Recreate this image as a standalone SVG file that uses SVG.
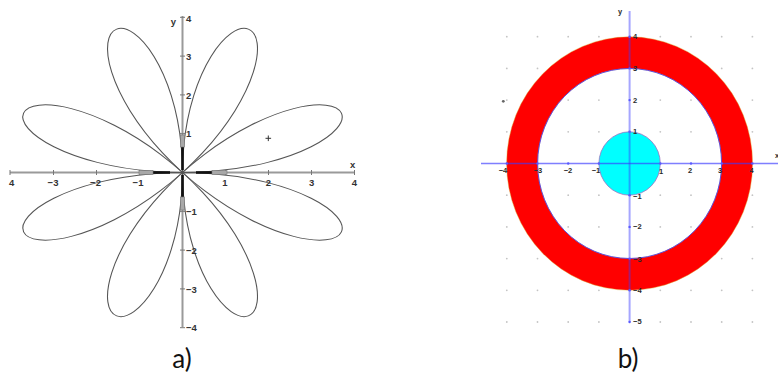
<svg xmlns="http://www.w3.org/2000/svg" xmlns:xlink="http://www.w3.org/1999/xlink" width="778" height="389" viewBox="0 0 778 389">
<style>
.lt{font-family:"Liberation Sans",Arial,sans-serif;font-size:9.5px;font-weight:bold;fill:#333}
.rt{font-family:"Liberation Sans",Arial,sans-serif;font-size:7.5px;font-weight:bold;fill:#2a2a2a}
.cap{font-family:"Lato","Open Sans",sans-serif;font-size:26px;fill:#111}
.gd{fill:#c4c4c4}
.bd{fill:#5a5aff}
</style>
<defs>
<path id="petal" d="M0,0 C0.2150,-0.0891 0.4339,-0.1687 0.6527,-0.2376 C1.090,-0.3754 1.528,-0.4695 1.932,-0.5176 C2.336,-0.5657 2.708,-0.5679 3.018,-0.5321 C3.328,-0.4963 3.577,-0.4227 3.745,-0.3276 C3.913,-0.2325 4,-0.1164 4,0 C4,0.1164 3.913,0.2325 3.745,0.3276 C3.577,0.4227 3.328,0.4963 3.018,0.5321 C2.708,0.5679 2.336,0.5657 1.932,0.5176 C1.528,0.4695 1.090,0.3754 0.6527,0.2376 C0.4339,0.1687 0.2150,0.0891 0,0 Z" fill="none" stroke="#555" stroke-width="0.025"/>
</defs>

<g id="plot-a">
<g id="axes-a" stroke="#9a9a9a" stroke-width="2">
<line x1="10" y1="172.5" x2="354.5" y2="172.5"/>
<line x1="182.5" y1="16" x2="182.5" y2="327"/>
</g>
<g id="ticks-a" stroke="#777" stroke-width="1">
<path d="M10,170v5M53.5,170v5M96.5,170v5M139.5,170v5M225.5,170v5M268.5,170v5M311.5,170v5M354.5,170v5"/>
<path d="M180,17.3h5M180,56.1h5M180,94.9h5M180,133.7h5M180,211.3h5M180,250.1h5M180,288.9h5M180,327.7h5"/>
</g>
<g id="rose" transform="translate(182.5 172.5) scale(43 -38.8)">
<use xlink:href="#petal" transform="rotate(22.5)"/>
<use xlink:href="#petal" transform="rotate(67.5)"/>
<use xlink:href="#petal" transform="rotate(112.5)"/>
<use xlink:href="#petal" transform="rotate(157.5)"/>
<use xlink:href="#petal" transform="rotate(202.5)"/>
<use xlink:href="#petal" transform="rotate(247.5)"/>
<use xlink:href="#petal" transform="rotate(292.5)"/>
<use xlink:href="#petal" transform="rotate(337.5)"/>
</g>
<g id="thick-a">
<rect x="196" y="171.2" width="16" height="2.6" fill="#111"/>
<rect x="212" y="170.5" width="15" height="4" fill="#a8a8a8" stroke="#777" stroke-width="0.6"/>
<rect x="153" y="171.2" width="17" height="2.6" fill="#111"/>
<rect x="139" y="170.5" width="14" height="4" fill="#a8a8a8" stroke="#777" stroke-width="0.6"/>
<rect x="181.2" y="147" width="2.6" height="23" fill="#111"/>
<rect x="180.5" y="135" width="4" height="12" fill="#a8a8a8" stroke="#777" stroke-width="0.6"/>
<rect x="181.2" y="175" width="2.6" height="22" fill="#111"/>
<rect x="180.5" y="197" width="4" height="13" fill="#a8a8a8" stroke="#777" stroke-width="0.6"/>
</g>
<path id="plus-a" d="M265.5,138.3h5.6M268.3,135.5v5.6" stroke="#333" stroke-width="1"/>
<g id="labels-a" class="lt">
<text x="11.7" y="186" text-anchor="middle">4</text>
<text x="53" y="186" text-anchor="middle">−3</text>
<text x="95.5" y="186" text-anchor="middle">−2</text>
<text x="138" y="186" text-anchor="middle">−1</text>
<text x="225" y="186" text-anchor="middle">1</text>
<text x="268.3" y="186" text-anchor="middle">2</text>
<text x="311.7" y="186" text-anchor="middle">3</text>
<text x="354.3" y="186" text-anchor="middle">4</text>
<text x="352.7" y="167.5" text-anchor="middle">x</text>
<text x="173.3" y="25" text-anchor="middle">y</text>
<text x="186" y="21.5">4</text>
<text x="186" y="60">3</text>
<text x="186" y="98.5">2</text>
<text x="186" y="137">1</text>
<text x="186" y="215">−1</text>
<text x="186" y="254">−2</text>
<text x="186" y="293">−3</text>
<text x="186" y="331">−4</text>
</g>
</g>

<g id="plot-b">
<g id="grid-b" class="gd">
<circle cx="506.8" cy="36.7" r="0.9"/><circle cx="537.5" cy="36.7" r="0.9"/><circle cx="568.2" cy="36.7" r="0.9"/><circle cx="598.9" cy="36.7" r="0.9"/><circle cx="660.3" cy="36.7" r="0.9"/><circle cx="691" cy="36.7" r="0.9"/><circle cx="721.7" cy="36.7" r="0.9"/><circle cx="752.4" cy="36.7" r="0.9"/>
<circle cx="506.8" cy="68.4" r="0.9"/><circle cx="537.5" cy="68.4" r="0.9"/><circle cx="568.2" cy="68.4" r="0.9"/><circle cx="598.9" cy="68.4" r="0.9"/><circle cx="660.3" cy="68.4" r="0.9"/><circle cx="691" cy="68.4" r="0.9"/><circle cx="721.7" cy="68.4" r="0.9"/><circle cx="752.4" cy="68.4" r="0.9"/>
<circle cx="506.8" cy="100.1" r="0.9"/><circle cx="537.5" cy="100.1" r="0.9"/><circle cx="568.2" cy="100.1" r="0.9"/><circle cx="598.9" cy="100.1" r="0.9"/><circle cx="660.3" cy="100.1" r="0.9"/><circle cx="691" cy="100.1" r="0.9"/><circle cx="721.7" cy="100.1" r="0.9"/><circle cx="752.4" cy="100.1" r="0.9"/>
<circle cx="506.8" cy="131.8" r="0.9"/><circle cx="537.5" cy="131.8" r="0.9"/><circle cx="568.2" cy="131.8" r="0.9"/><circle cx="598.9" cy="131.8" r="0.9"/><circle cx="660.3" cy="131.8" r="0.9"/><circle cx="691" cy="131.8" r="0.9"/><circle cx="721.7" cy="131.8" r="0.9"/><circle cx="752.4" cy="131.8" r="0.9"/>
<circle cx="506.8" cy="195.2" r="0.9"/><circle cx="537.5" cy="195.2" r="0.9"/><circle cx="568.2" cy="195.2" r="0.9"/><circle cx="598.9" cy="195.2" r="0.9"/><circle cx="660.3" cy="195.2" r="0.9"/><circle cx="691" cy="195.2" r="0.9"/><circle cx="721.7" cy="195.2" r="0.9"/><circle cx="752.4" cy="195.2" r="0.9"/>
<circle cx="506.8" cy="226.9" r="0.9"/><circle cx="537.5" cy="226.9" r="0.9"/><circle cx="568.2" cy="226.9" r="0.9"/><circle cx="598.9" cy="226.9" r="0.9"/><circle cx="660.3" cy="226.9" r="0.9"/><circle cx="691" cy="226.9" r="0.9"/><circle cx="721.7" cy="226.9" r="0.9"/><circle cx="752.4" cy="226.9" r="0.9"/>
<circle cx="506.8" cy="258.6" r="0.9"/><circle cx="537.5" cy="258.6" r="0.9"/><circle cx="568.2" cy="258.6" r="0.9"/><circle cx="598.9" cy="258.6" r="0.9"/><circle cx="660.3" cy="258.6" r="0.9"/><circle cx="691" cy="258.6" r="0.9"/><circle cx="721.7" cy="258.6" r="0.9"/><circle cx="752.4" cy="258.6" r="0.9"/>
<circle cx="506.8" cy="290.3" r="0.9"/><circle cx="537.5" cy="290.3" r="0.9"/><circle cx="568.2" cy="290.3" r="0.9"/><circle cx="598.9" cy="290.3" r="0.9"/><circle cx="660.3" cy="290.3" r="0.9"/><circle cx="691" cy="290.3" r="0.9"/><circle cx="721.7" cy="290.3" r="0.9"/><circle cx="752.4" cy="290.3" r="0.9"/>
<circle cx="506.8" cy="322" r="0.9"/><circle cx="537.5" cy="322" r="0.9"/><circle cx="568.2" cy="322" r="0.9"/><circle cx="598.9" cy="322" r="0.9"/><circle cx="660.3" cy="322" r="0.9"/><circle cx="691" cy="322" r="0.9"/><circle cx="721.7" cy="322" r="0.9"/><circle cx="752.4" cy="322" r="0.9"/>
</g>
<path id="ring" fill="#ff0000" fill-rule="evenodd" stroke="#d8b030" stroke-width="0.7" stroke-opacity="0.6" d="M506.6,163.5 a123,126.7 0 1,0 246,0 a123,126.7 0 1,0 -246,0 Z M537.6,163.5 a92,95 0 1,0 184,0 a92,95 0 1,0 -184,0 Z"/>
<ellipse id="ring-inner-edge" cx="629.6" cy="163.5" rx="92" ry="95" fill="none" stroke="#3a3aff" stroke-width="0.8"/>
<ellipse id="disc" cx="629.6" cy="163.5" rx="30.7" ry="31.7" fill="#00ffff" stroke="#a070c0" stroke-width="0.8"/>
<g id="axes-b" stroke="#3a3aff">
<line x1="481" y1="163.5" x2="778" y2="163.5" stroke-width="1.3" stroke-opacity="0.65"/>
<line x1="629.6" y1="11" x2="629.6" y2="322" stroke-width="2" stroke-opacity="0.45"/>
</g>
<g id="axis-dots-b" class="bd">
<circle cx="506.8" cy="163.5" r="1.2"/><circle cx="537.5" cy="163.5" r="1.2"/><circle cx="568.2" cy="163.5" r="1.2"/><circle cx="598.9" cy="163.5" r="1.2"/><circle cx="660.3" cy="163.5" r="1.2"/><circle cx="691" cy="163.5" r="1.2"/><circle cx="721.7" cy="163.5" r="1.2"/><circle cx="752.4" cy="163.5" r="1.2"/>
<circle cx="629.6" cy="36.7" r="1.2"/><circle cx="629.6" cy="68.4" r="1.2"/><circle cx="629.6" cy="100.1" r="1.2"/><circle cx="629.6" cy="131.8" r="1.2"/><circle cx="629.6" cy="195.2" r="1.2"/><circle cx="629.6" cy="226.9" r="1.2"/><circle cx="629.6" cy="258.6" r="1.2"/><circle cx="629.6" cy="290.3" r="1.2"/><circle cx="629.6" cy="322" r="1.2"/>
</g>
<circle id="mark-b" cx="503.3" cy="101.3" r="1.4" fill="#666"/>
<g id="labels-b" class="rt">
<text x="503" y="173" text-anchor="middle">−4</text>
<text x="538" y="173" text-anchor="middle">−3</text>
<text x="568" y="173" text-anchor="middle">−2</text>
<text x="596" y="173" text-anchor="middle">−1</text>
<text x="661" y="174" text-anchor="middle">1</text>
<text x="690" y="173" text-anchor="middle">2</text>
<text x="720" y="173" text-anchor="middle">3</text>
<text x="751.7" y="173" text-anchor="middle">4</text>
<text x="775" y="158">x</text>
<text x="620" y="14" text-anchor="middle">y</text>
<text x="633" y="39">4</text>
<text x="633" y="71">3</text>
<text x="633" y="102.5">2</text>
<text x="633" y="134">1</text>
<text x="633" y="198.5">−1</text>
<text x="633" y="229">−2</text>
<text x="633" y="261.5">−3</text>
<text x="633" y="292.5">−4</text>
<text x="633" y="324">−5</text>
</g>
</g>

<g id="captions" class="cap">
<text x="182" y="368" text-anchor="middle">a)</text>
<text x="628" y="368" text-anchor="middle">b)</text>
</g>
</svg>
